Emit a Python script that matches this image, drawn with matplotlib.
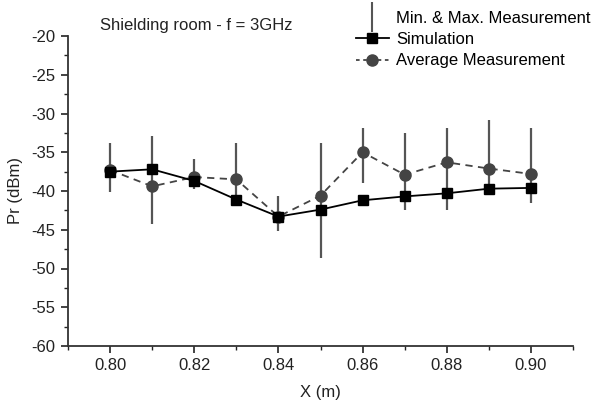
import matplotlib
matplotlib.use("Agg")
import matplotlib.pyplot as plt
from matplotlib.lines import Line2D
from matplotlib.ticker import MultipleLocator, FormatStrFormatter

plt.rcParams['font.family'] = ['Liberation Sans', 'DejaVu Sans']
plt.rcParams['axes.unicode_minus'] = False

x = [0.80, 0.81, 0.82, 0.83, 0.84, 0.85, 0.86, 0.87, 0.88, 0.89, 0.90]
simulation = [-37.5, -37.2, -38.7, -41.1, -43.3, -42.4, -41.2, -40.7, -40.3, -39.7, -39.6]
avg_meas = [-37.3, -39.4, -38.2, -38.5, -43.3, -40.6, -35.0, -37.9, -36.3, -37.1, -37.8]
max_meas = [-33.8, -32.9, -35.9, -33.8, -40.6, -33.8, -31.9, -32.5, -31.9, -30.8, -31.9]
min_meas = [-40.1, -44.3, -39.7, -41.9, -45.2, -48.7, -39.0, -42.5, -42.5, -40.3, -41.5]

fig = plt.figure(figsize=(5.92, 4.05), dpi=100)
ax = fig.add_axes([68/592, 59/405, (573-68)/592, (346-36)/405])

ax.vlines(x, min_meas, max_meas, color='#555555', lw=1.6, zorder=1)
ax.plot(x, simulation, '-', color='black', lw=1.3, marker='s', ms=7,
        mfc='black', mec='black', zorder=3)
ax.plot(x, avg_meas, '--', color='#444444', lw=1.3, marker='o', ms=8,
        mfc='#444444', mec='#444444', dashes=(4, 3), zorder=2)

ax.set_xlim(0.79, 0.91)
ax.set_ylim(-60, -20)
ax.xaxis.set_major_locator(MultipleLocator(0.02))
ax.xaxis.set_minor_locator(MultipleLocator(0.01))
ax.xaxis.set_major_formatter(FormatStrFormatter('%.2f'))
ax.yaxis.set_major_locator(MultipleLocator(5))
ax.yaxis.set_minor_locator(MultipleLocator(2.5))
for s in ['top', 'right']:
    ax.spines[s].set_visible(False)
for s in ['left', 'bottom']:
    ax.spines[s].set_color('#333333')
    ax.spines[s].set_linewidth(1.3)
ax.tick_params(which='major', direction='out', length=5, width=1.2, labelsize=12,
               colors='#222222', pad=4)
ax.tick_params(which='minor', direction='out', length=3, width=1.0, colors='#222222')
ax.set_xlabel('X (m)', fontsize=12, color='#222222', labelpad=8)
ax.set_ylabel('Pr (dBm)', fontsize=12, color='#222222', labelpad=6)

fig.text(100/592, 1 - 30/405, 'Shielding room - f = 3GHz', fontsize=12, color='#222222',
         va='baseline')

handles = [
    Line2D([], [], color='#555555', lw=0, marker='|', ms=22, mew=1.5),
    Line2D([], [], color='black', lw=1.3, marker='s', ms=7),
    Line2D([], [], color='#444444', lw=1.3, ls='--', marker='o', ms=8, dashes=(2, 2)),
]
labels = ['Min. & Max. Measurement', 'Simulation', 'Average Measurement']
fig.legend(handles, labels, loc='upper right', bbox_to_anchor=(1.014, 0.998), frameon=False,
           fontsize=12, handlelength=2.0, labelspacing=0.38, handletextpad=0.4,
           borderaxespad=0.2)

fig.savefig('out.png', dpi=100)
